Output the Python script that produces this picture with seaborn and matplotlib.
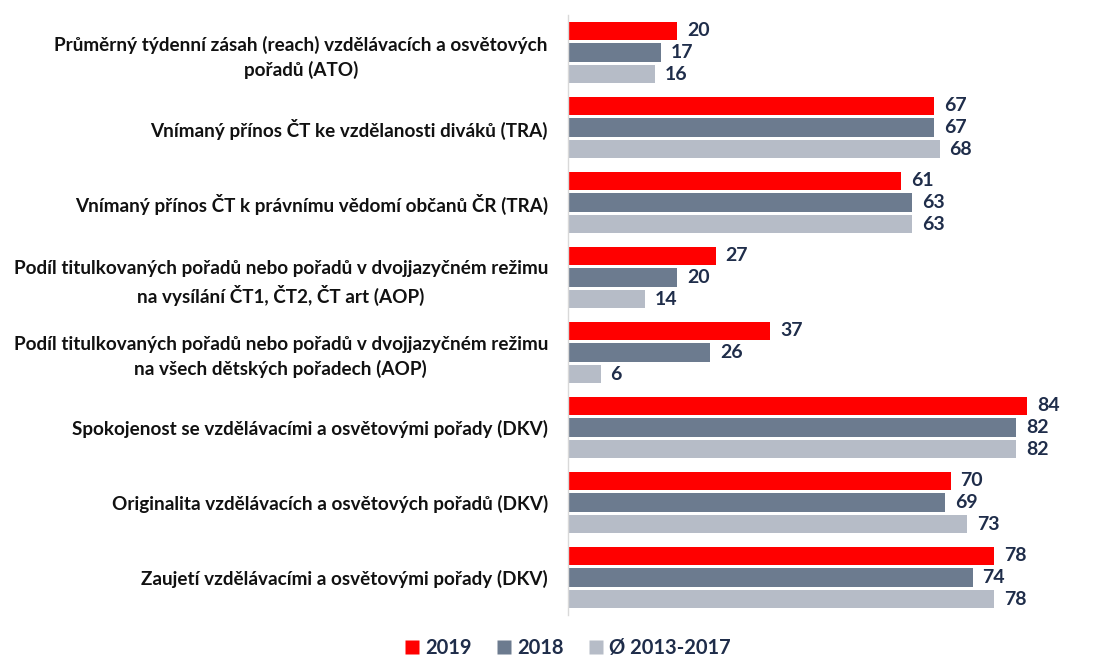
import pandas as pd
import seaborn as sns
import matplotlib.pyplot as plt
from matplotlib import transforms

# Indicators (category labels, two lines where the original wraps)
categories = [
    "Průměrný týdenní zásah (reach) vzdělávacích a osvětových\npořadů (ATO)",
    "Vnímaný přínos ČT ke vzdělanosti diváků (TRA)",
    "Vnímaný přínos ČT k právnímu vědomí občanů ČR (TRA)",
    "Podíl titulkovaných pořadů nebo pořadů v dvojjazyčném režimu\nna vysílání ČT1, ČT2, ČT art (AOP)",
    "Podíl titulkovaných pořadů nebo pořadů v dvojjazyčném režimu\nna všech dětských pořadech (AOP)",
    "Spokojenost se vzdělávacími a osvětovými pořady (DKV)",
    "Originalita vzdělávacích a osvětových pořadů (DKV)",
    "Zaujetí vzdělávacími a osvětovými pořady (DKV)",
]
series = ["2019", "2018", "Ø 2013-2017"]
values_2019 = [20, 67, 61, 27, 37, 84, 70, 78]
values_2018 = [17, 67, 63, 20, 26, 82, 69, 74]
values_avg = [16, 68, 63, 14, 6, 82, 73, 78]

colors = ["#FF0000", "#6C7B8F", "#B6BCC7"]
navy = "#1F2D4A"

df = pd.DataFrame({
    "indicator": categories * 3,
    "period": [s for s in series for _ in categories],
    "value": values_2019 + values_2018 + values_avg,
})

sns.set_theme(style="white")
plt.rcParams["font.family"] = ["Lato", "DejaVu Sans"]

fig = plt.figure(figsize=(11, 6.57), dpi=100)
ax = fig.add_axes([0.5164, 0.0639, 0.4636, 0.9133])

sns.barplot(data=df, y="indicator", x="value", hue="period", orient="h",
            palette=colors, saturation=1, width=0.864, gap=0.14, ax=ax,
            legend=False, edgecolor="none", linewidth=0)

for cont in ax.containers:
    ax.bar_label(cont, padding=7, fontsize=14, fontweight="bold", color=navy)

ax.set_xlim(0, 93.3)
ax.set_ylim(len(categories) - 0.5, -0.5)
ax.set_xlabel("")
ax.set_ylabel("")
ax.set_xticks([])
ax.set_yticks(range(len(categories)))
ax.set_yticklabels(categories, fontsize=13.6, fontweight="bold", color="#111111",
                   ha="center", multialignment="center", linespacing=1.45)
ax.tick_params(axis="y", which="major", length=0, pad=0)

# centre the wrapped labels so their right edge sits left of the axis
fig.canvas.draw()
right_px = 548
trans = transforms.blended_transform_factory(fig.transFigure, ax.transData)
for lbl in ax.get_yticklabels():
    w = lbl.get_window_extent().width
    lbl.set_transform(trans)
    lbl.set_x((right_px - w / 2) / fig.bbox.width)

# small ticks separating the groups
ax.set_yticks([i - 0.5 for i in range(len(categories) + 1)], minor=True)
ax.tick_params(axis="y", which="minor", length=6, color="#D9D9D9", width=1)

for side in ["top", "right", "bottom"]:
    ax.spines[side].set_visible(False)
ax.spines["left"].set_color("#D9D9D9")
ax.spines["left"].set_linewidth(1)

handles = [plt.Line2D([], [], marker="s", linestyle="none", markersize=10,
                      markerfacecolor=c, markeredgecolor="none") for c in colors]
fig.legend(handles, series, loc="center", bbox_to_anchor=(0.515, 0.013),
           ncol=3, frameon=False, handletextpad=0.15, columnspacing=1.1,
           handlelength=1.0,
           prop={"family": ["Lato", "DejaVu Sans"], "weight": "bold", "size": 14.5},
           labelcolor=navy)

fig.savefig("out.png", dpi=100)
